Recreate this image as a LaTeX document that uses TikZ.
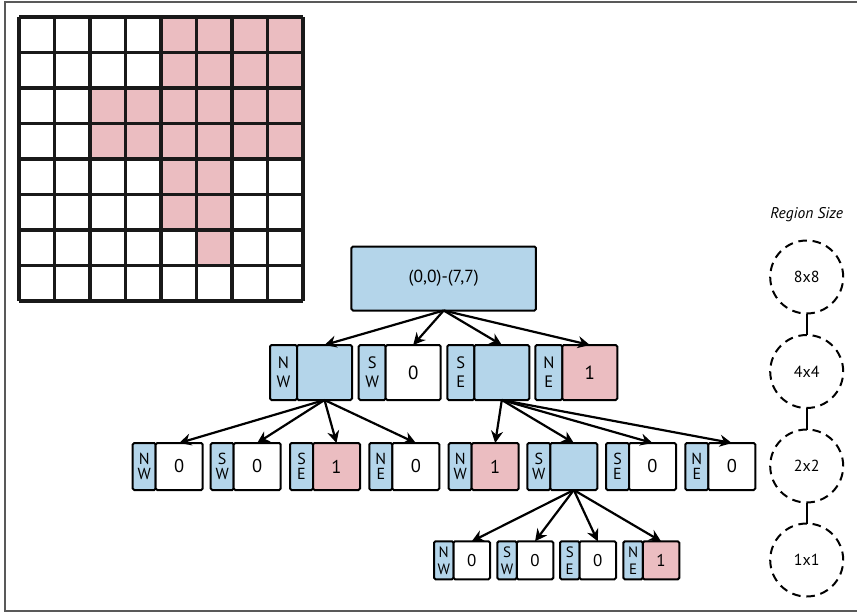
\documentclass[tikz,border=0pt]{standalone}
\usepackage{fontspec}
\setmainfont{PT Sans}
\usepackage{xcolor}
\usepackage{tikz}
\usetikzlibrary{positioning, arrows.meta}
\definecolor{qblue}{HTML}{B4D5EA}
\definecolor{qpink}{HTML}{EBBDC1}
\tikzset{
  box/.style={draw, line width=2pt, rounded corners=1.5pt, inner sep=0pt, outer sep=0pt},
  tagA/.style={box, fill=qblue, align=center, minimum width=27pt, minimum height=55pt, font=\fontsize{16.5}{19}\selectfont},
  valA/.style={box, minimum width=55pt, minimum height=55pt, font=\fontsize{19}{21}\selectfont},
  tagB/.style={box, fill=qblue, align=center, minimum width=23pt, minimum height=47pt, font=\fontsize{16}{15.5}\selectfont},
  valB/.style={box, minimum width=47pt, minimum height=47pt, font=\fontsize{18.5}{20}\selectfont},
  tagC/.style={box, fill=qblue, align=center, minimum width=19.5pt, minimum height=38pt, font=\fontsize{15}{17}\selectfont},
  valC/.style={box, minimum width=36.5pt, minimum height=38pt, font=\fontsize{17}{19}\selectfont},
  sizering/.style={circle, draw, line width=2pt, dash pattern=on 8.5pt off 5.8pt, minimum size=73pt, inner sep=0pt, outer sep=0pt, font=\fontsize{16}{18}\selectfont},
  arr/.style={line width=2.2pt, ->}
}

\begin{document}
\begin{tikzpicture}[x=1pt, y=-1pt, >={Stealth[length=12pt, width=12pt]}]
    \useasboundingbox (0,0) rectangle (857,614);
    % frame of the figure
    \draw[line width=1.3pt, black!65] (857,2) -- (5,2) -- (5,611) -- (857,611);

    % the 8x8 image, filled cells first
    \foreach \r/\cols in {0/{4,5,6,7}, 1/{4,5,6,7}, 2/{2,3,4,5,6,7}, 3/{2,3,4,5,6,7}, 4/{4,5}, 5/{4,5}, 6/{5}}
        \foreach \c in \cols
            \fill[qpink] (19+35.5*\c,17+35.5*\r) rectangle ++(35.5,35.5);
    \foreach \i in {0,...,8} {
        \draw[line width=3.2pt, black!90] (19+35.5*\i,17) -- (19+35.5*\i,301);
        \draw[line width=3.2pt, black!90] (19,17+35.5*\i) -- (303,17+35.5*\i);
    }

    % root of the quadtree
    \node[box, fill=qblue, minimum width=184.5pt, minimum height=64pt, font=\fontsize{17.5}{19}\selectfont] (root) at (443.7,278.5) {(0,0)-(7,7)};

    % first level
    \foreach \a/\b/\x/\v/\f in {N/W/270//qblue, S/W/358.7/0/white, S/E/447.3//qblue, N/E/535.3/1/qpink} {
        \node[tagA, anchor=north west] (t\a\b) at (\x,345) {\a\\\b};
        \node[valA, fill=\f, right=0pt of t\a\b] (v\a\b) {\v};
        \draw[arr] (root.south) -- (v\a\b.north);
    }

    % second level, below NW and below SE
    \foreach \p/\a/\b/\x/\v/\f in {NW/N/W/132.7/0/white, NW/S/W/210.7/0/white, NW/S/E/290/1/qpink, NW/N/E/369.3/0/white,
                                   SE/N/W/448.7/1/qpink, SE/S/W/527.3//qblue, SE/S/E/606/0/white, SE/N/E/685.3/0/white} {
        \node[tagB, anchor=north west] (t\p\a\b) at (\x,443) {\a\\\b};
        \node[valB, fill=\f, right=0pt of t\p\a\b] (v\p\a\b) {\v};
        \draw[arr] (v\p.south) -- (v\p\a\b.north);
    }

    % third level, below SE-SW
    \foreach \a/\b/\x/\v/\f in {N/W/434/0/white, S/W/497.3/0/white, S/E/560/0/white, N/E/623.3/1/qpink} {
        \node[tagC, anchor=north west] (tSESW\a\b) at (\x,541.3) {\a\\\b};
        \node[valC, fill=\f, right=0pt of tSESW\a\b] (vSESW\a\b) {\v};
        \draw[arr] (vSESW.south) -- (vSESW\a\b.north);
    }

    % region sizes
    \node[font=\fontsize{15.5}{17}\selectfont\itshape] (rstitle) at (806.7,215) {Region Size};
    \node[sizering] (s8) at (806.7,277) {8x8};
    \node[sizering] (s4) at (806.7,371.5) {4x4};
    \node[sizering] (s2) at (806.7,466) {2x2};
    \node[sizering] (s1) at (806.7,560) {1x1};
    \draw[line width=2pt] (s8) -- (s4);
    \draw[line width=2pt] (s4) -- (s2);
    \draw[line width=2pt] (s2) -- (s1);
\end{tikzpicture}
\end{document}
